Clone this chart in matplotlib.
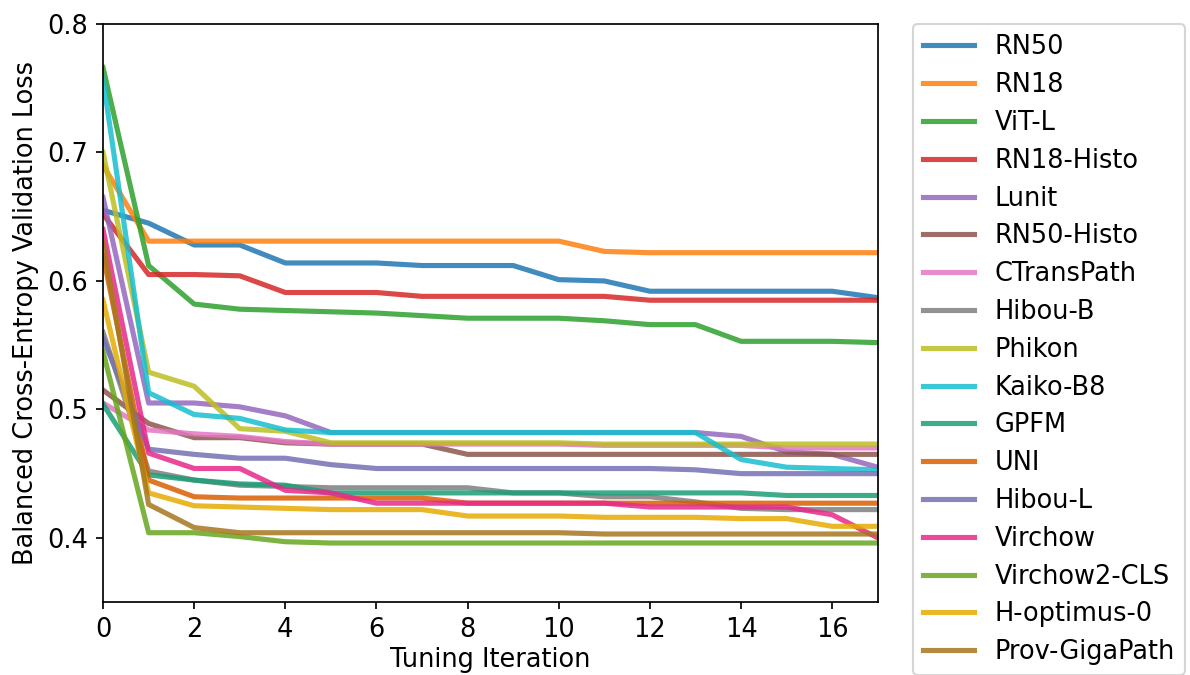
import matplotlib
matplotlib.use("Agg")
import matplotlib.pyplot as plt
import numpy as np

iterations = list(range(18))

models = ["RN50", "RN18", "ViT-L", "RN18-Histo", "Lunit", "RN50-Histo", "CTransPath",
          "Hibou-B", "Phikon", "Kaiko-B8", "GPFM", "UNI", "Hibou-L", "Virchow",
          "Virchow2-CLS", "H-optimus-0", "Prov-GigaPath"]

rn50 = [0.655, 0.645, 0.628, 0.628, 0.614, 0.614, 0.614, 0.612, 0.612, 0.612,
        0.601, 0.600, 0.592, 0.592, 0.592, 0.592, 0.592, 0.587]
rn18 = [0.690, 0.631, 0.631, 0.631, 0.631, 0.631, 0.631, 0.631, 0.631, 0.631,
        0.631, 0.623, 0.622, 0.622, 0.622, 0.622, 0.622, 0.622]
vit_l = [0.766, 0.612, 0.582, 0.578, 0.577, 0.576, 0.575, 0.573, 0.571, 0.571,
         0.571, 0.569, 0.566, 0.566, 0.553, 0.553, 0.553, 0.552]
rn18_histo = [0.652, 0.605, 0.605, 0.604, 0.591, 0.591, 0.591, 0.588, 0.588, 0.588,
              0.588, 0.588, 0.585, 0.585, 0.585, 0.585, 0.585, 0.585]
lunit = [0.665, 0.505, 0.505, 0.502, 0.495, 0.482, 0.482, 0.482, 0.482, 0.482,
         0.482, 0.482, 0.482, 0.482, 0.479, 0.467, 0.465, 0.455]
rn50_histo = [0.515, 0.489, 0.478, 0.478, 0.474, 0.473, 0.473, 0.473, 0.465, 0.465,
              0.465, 0.465, 0.465, 0.465, 0.465, 0.465, 0.465, 0.465]
ctranspath = [0.505, 0.484, 0.481, 0.479, 0.475, 0.473, 0.473, 0.473, 0.473, 0.473,
              0.473, 0.472, 0.472, 0.472, 0.472, 0.470, 0.470, 0.470]
hibou_b = [0.560, 0.452, 0.445, 0.441, 0.440, 0.439, 0.439, 0.439, 0.439, 0.435,
           0.435, 0.432, 0.432, 0.428, 0.423, 0.422, 0.422, 0.422]
phikon = [0.700, 0.529, 0.518, 0.485, 0.483, 0.474, 0.474, 0.474, 0.474, 0.474,
          0.474, 0.473, 0.473, 0.473, 0.473, 0.473, 0.473, 0.473]
kaiko_b8 = [0.757, 0.513, 0.496, 0.493, 0.484, 0.482, 0.482, 0.482, 0.482, 0.482,
            0.482, 0.482, 0.482, 0.482, 0.461, 0.455, 0.454, 0.453]
gpfm = [0.504, 0.449, 0.445, 0.442, 0.441, 0.435, 0.435, 0.435, 0.435, 0.435,
        0.435, 0.435, 0.435, 0.435, 0.435, 0.433, 0.433, 0.433]
uni = [0.620, 0.445, 0.432, 0.431, 0.431, 0.431, 0.431, 0.431, 0.427, 0.427,
       0.427, 0.427, 0.427, 0.427, 0.427, 0.427, 0.427, 0.427]
hibou_l = [0.555, 0.469, 0.465, 0.462, 0.462, 0.457, 0.454, 0.454, 0.454, 0.454,
           0.454, 0.454, 0.454, 0.453, 0.450, 0.450, 0.450, 0.450]
virchow = [0.640, 0.466, 0.454, 0.454, 0.437, 0.435, 0.427, 0.427, 0.427, 0.427,
           0.427, 0.427, 0.424, 0.424, 0.424, 0.424, 0.418, 0.400]
virchow2_cls = [0.545, 0.404, 0.404, 0.401, 0.397, 0.396, 0.396, 0.396, 0.396, 0.396,
                0.396, 0.396, 0.396, 0.396, 0.396, 0.396, 0.396, 0.396]
h_optimus_0 = [0.585, 0.435, 0.425, 0.424, 0.423, 0.422, 0.422, 0.422, 0.417, 0.417,
               0.417, 0.416, 0.416, 0.416, 0.415, 0.415, 0.409, 0.409]
prov_gigapath = [0.630, 0.426, 0.408, 0.404, 0.404, 0.404, 0.404, 0.404, 0.404, 0.404,
                 0.404, 0.403, 0.403, 0.403, 0.403, 0.403, 0.403, 0.403]

series = [rn50, rn18, vit_l, rn18_histo, lunit, rn50_histo, ctranspath, hibou_b,
          phikon, kaiko_b8, gpfm, uni, hibou_l, virchow, virchow2_cls,
          h_optimus_0, prov_gigapath]

# tab10 for the first ten, Dark2 for the rest
colors = list(plt.cm.tab10.colors) + list(plt.cm.Dark2.colors[:7])

plt.rcParams["font.size"] = 12

DPI = 154
fig = plt.figure(figsize=(1190 / DPI, 675 / DPI), dpi=DPI)
ax = fig.add_axes([0.0866, 0.108, 0.651, 0.8564])

for name, vals, c in zip(models, series, colors):
    ax.plot(iterations, vals, color=c, linewidth=2.4, alpha=0.85, label=name)

ax.set_xlim(0, 17)
ax.set_ylim(0.35, 0.8)
ax.set_xticks(np.arange(0, 17, 2))
ax.set_yticks([0.4, 0.5, 0.6, 0.7, 0.8])
ax.set_xlabel("Tuning Iteration", labelpad=2)
ax.set_ylabel("Balanced Cross-Entropy Validation Loss")

ax.legend(loc="upper left", bbox_to_anchor=(1.045, 1.0), borderaxespad=0,
          labelspacing=0.46)

fig.savefig("out.png", dpi=DPI)
